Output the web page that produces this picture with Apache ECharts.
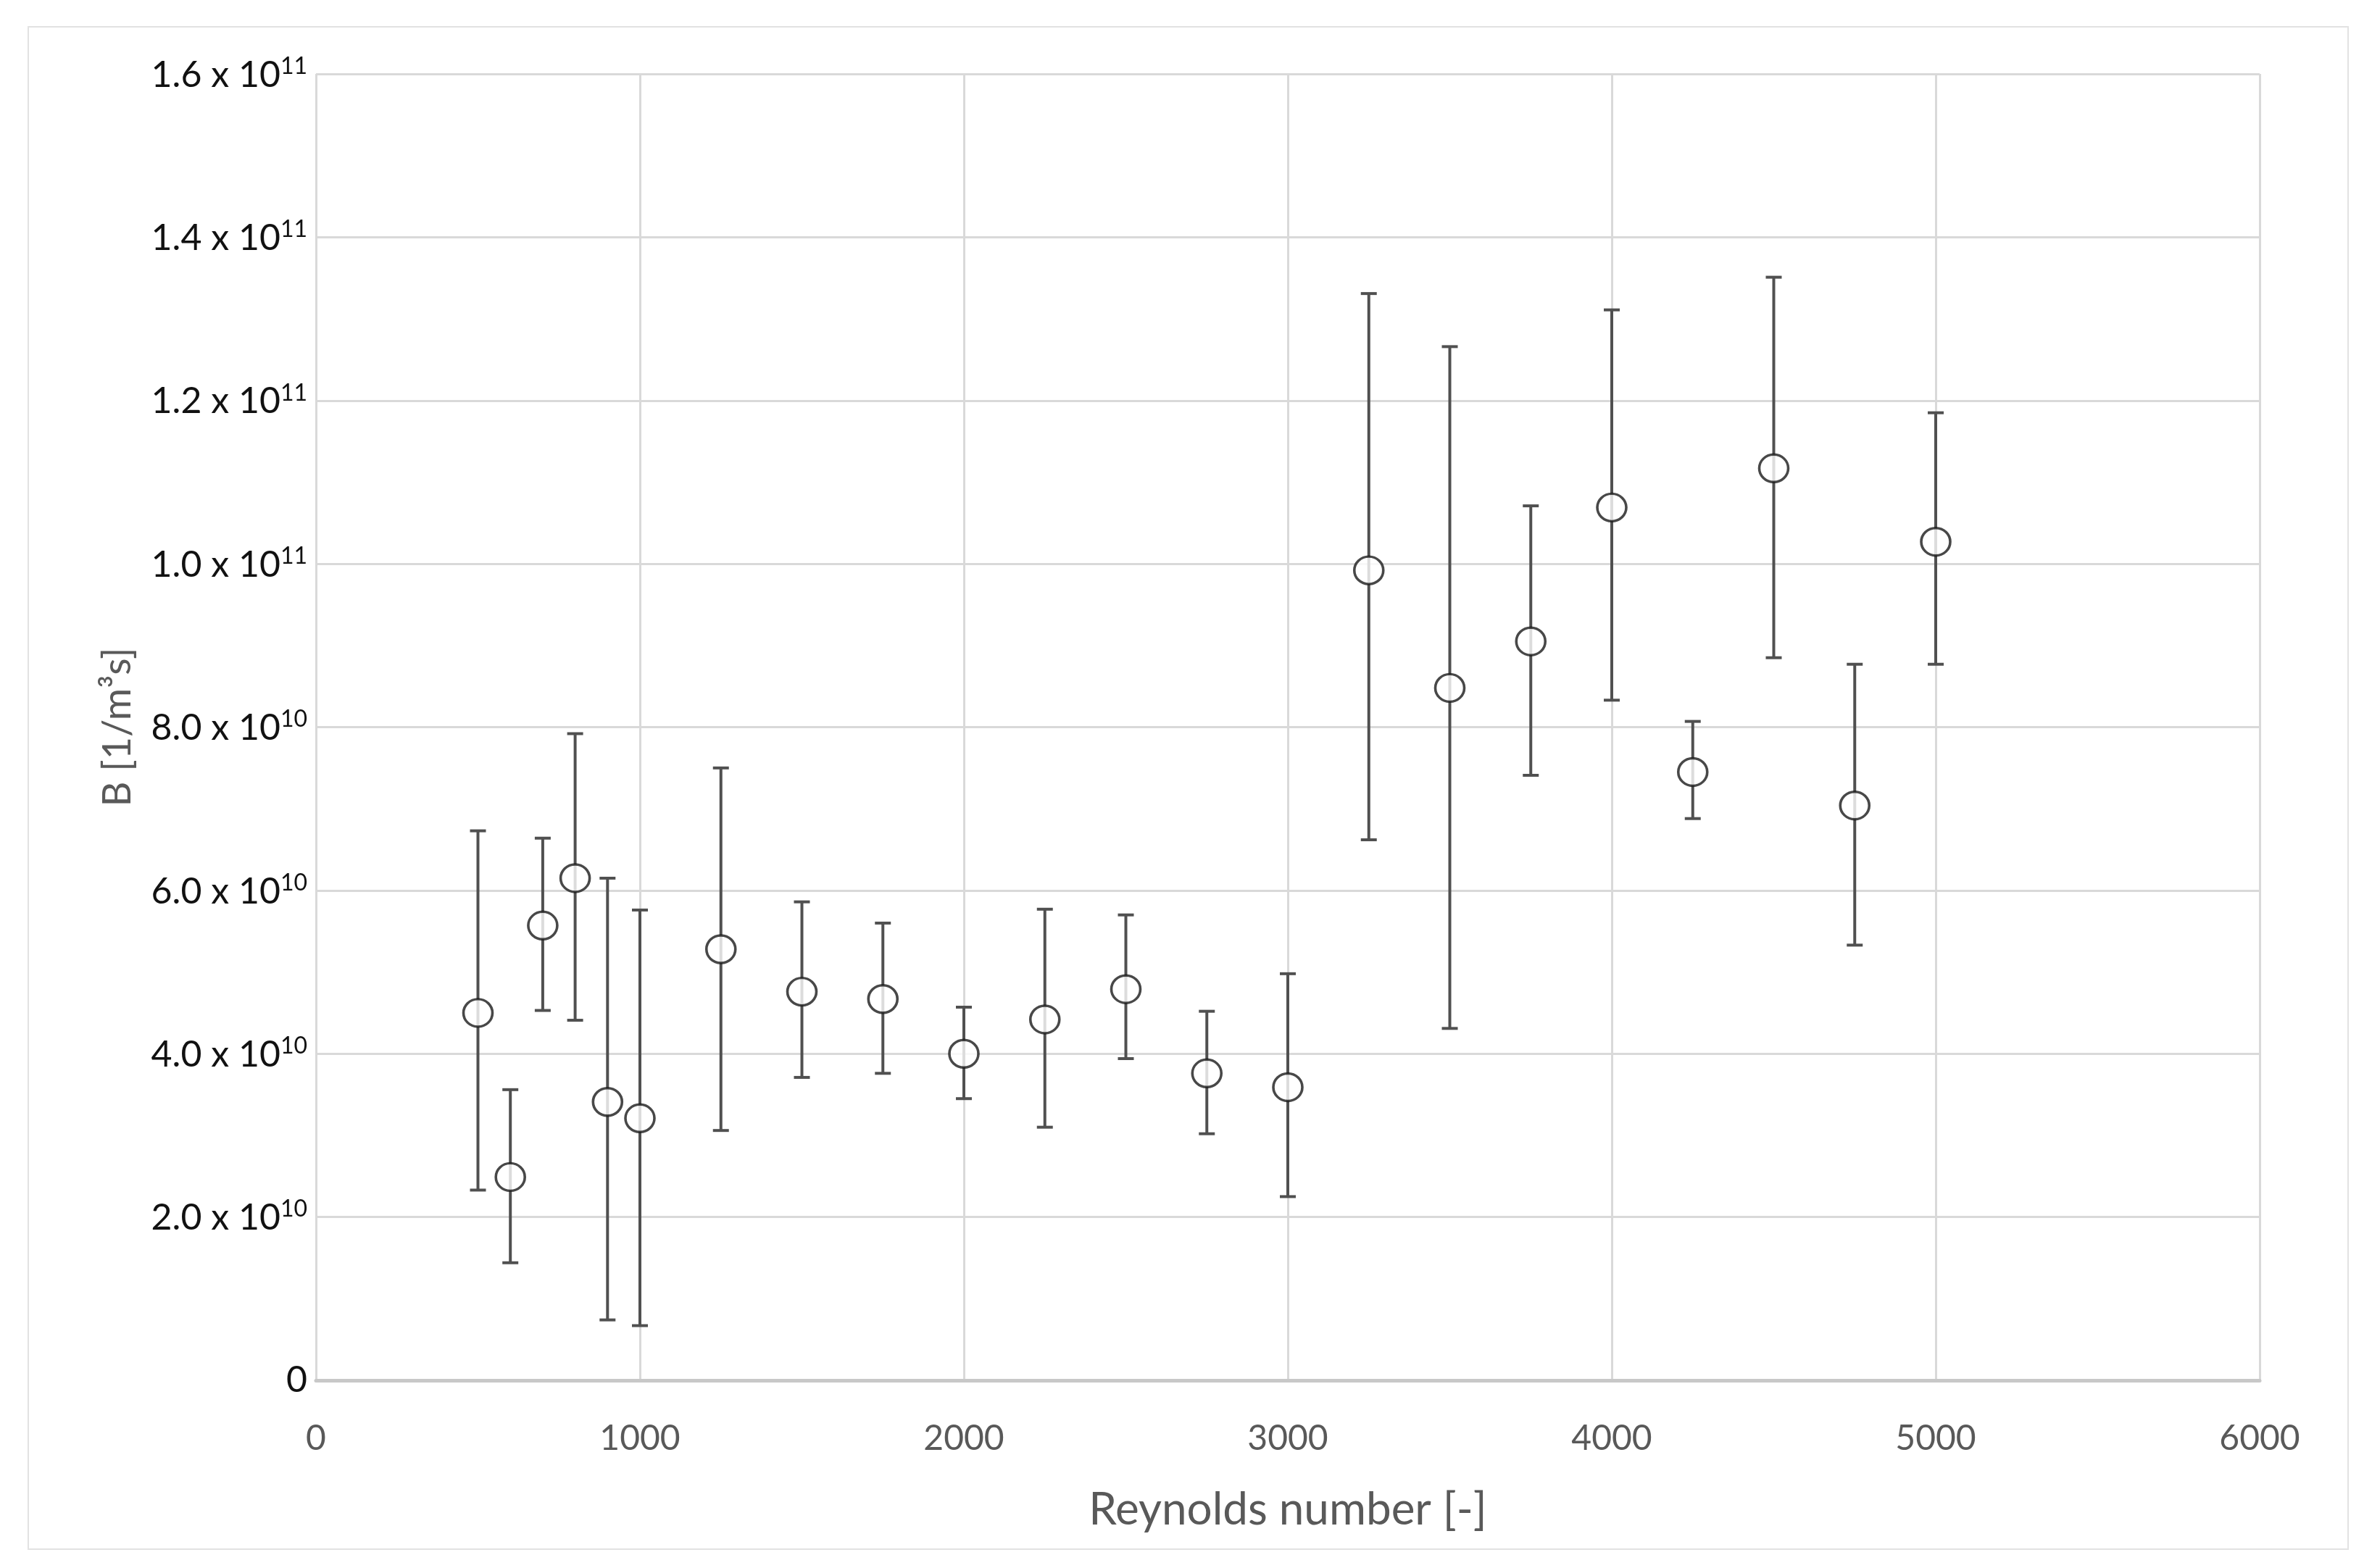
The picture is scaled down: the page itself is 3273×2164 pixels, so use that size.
<!DOCTYPE html>
<html>
<head>
<meta charset="utf-8">
<script src="https://cdn.jsdelivr.net/npm/echarts@6/dist/echarts.min.js"></script>
<style>
  html, body { margin: 0; padding: 0; background: #fff; }
  #chart { width: 3273px; height: 2164px; }
</style>
</head>
<body>
<div id="chart"></div>
<script>
// Reynolds number of each run
var reynolds = [500, 600, 700, 800, 900, 1000, 1250, 1500, 1750, 2000, 2250,
                2500, 2750, 3000, 3250, 3500, 3750, 4000, 4250, 4500, 4750, 5000];
// B mean value [1/m3s]
var bMean = [4.50e10, 2.49e10, 5.57e10, 6.15e10, 3.41e10, 3.21e10, 5.28e10, 4.76e10, 4.67e10, 4.00e10, 4.42e10,
             4.79e10, 3.76e10, 3.59e10, 9.92e10, 8.48e10, 9.05e10, 10.69e10, 7.45e10, 11.17e10, 7.04e10, 10.27e10];
// lower and upper ends of the error bars
var bLow = [2.33e10, 1.44e10, 4.53e10, 4.41e10, 0.74e10, 0.67e10, 3.06e10, 3.71e10, 3.76e10, 3.45e10, 3.10e10,
            3.94e10, 3.02e10, 2.25e10, 6.62e10, 4.31e10, 7.41e10, 8.33e10, 6.88e10, 8.85e10, 5.33e10, 8.77e10];
var bHigh = [6.73e10, 3.56e10, 6.64e10, 7.92e10, 6.15e10, 5.76e10, 7.50e10, 5.86e10, 5.60e10, 4.57e10, 5.77e10,
             5.70e10, 4.52e10, 4.98e10, 13.31e10, 12.66e10, 10.71e10, 13.11e10, 8.07e10, 13.51e10, 8.77e10, 11.85e10];

var points = reynolds.map(function (r, i) { return [r, bMean[i]]; });
var bars = reynolds.map(function (r, i) { return [r, bLow[i], bHigh[i]]; });

function sciLabel(v) {
  if (v === 0) return '{a|0}';
  var exp = Math.floor(Math.log10(v) + 1e-9);
  var mant = v / Math.pow(10, exp);
  return '{a|' + mant.toFixed(1) + ' x 10}{s|' + exp + '}';
}

var myChart = echarts.init(document.getElementById('chart'));
var option = {
  backgroundColor: '#fff',
  animation: false,
  grid: { left: 436, right: 155, top: 102, bottom: 259 },
  graphic: [{
    type: 'rect',
    shape: { x: 39, y: 37, width: 3201, height: 2101 },
    style: { fill: 'none', stroke: '#e2e2e2', lineWidth: 2 },
    silent: true
  }],
  xAxis: {
    type: 'value',
    min: 0, max: 6000, interval: 1000,
    name: 'Reynolds number [-]',
    nameLocation: 'middle',
    nameGap: 148,
    nameTextStyle: { fontFamily: 'Lato', fontSize: 62, color: '#595959' },
    axisLine: { show: true, lineStyle: { color: '#c8c8c8', width: 5 } },
    axisTick: { show: false },
    axisLabel: {
      fontFamily: 'Lato', fontSize: 48, color: '#595959', margin: 57,
      formatter: function (v) { return String(v); }
    },
    splitLine: { show: true, lineStyle: { color: '#d9d9d9', width: 3 } }
  },
  yAxis: {
    type: 'value',
    min: 0, max: 1.6e11, interval: 2e10,
    name: 'B [1/m³s]',
    nameLocation: 'middle',
    nameGap: 246,
    nameTextStyle: { fontFamily: 'Lato', fontSize: 54, color: '#595959' },
    axisLine: { show: false },
    axisTick: { show: false },
    axisLabel: {
      margin: 12,
      formatter: sciLabel,
      rich: {
        a: { fontFamily: 'Lato', fontSize: 50, color: '#111', verticalAlign: 'bottom' },
        s: { fontFamily: 'Lato', fontSize: 32, color: '#111', verticalAlign: 'bottom', padding: [0, 0, 21, 0] }
      }
    },
    splitLine: { show: true, lineStyle: { color: '#d9d9d9', width: 3 } }
  },
  series: [
    {
      name: 'error',
      type: 'custom',
      data: bars,
      encode: { x: 0, y: [1, 2] },
      z: 2,
      renderItem: function (params, api) {
        var lo = api.coord([api.value(0), api.value(1)]);
        var hi = api.coord([api.value(0), api.value(2)]);
        var w = 11;
        var st = { stroke: '#505050', lineWidth: 4 };
        return {
          type: 'group',
          children: [
            { type: 'line', shape: { x1: lo[0], y1: lo[1], x2: hi[0], y2: hi[1] }, style: st },
            { type: 'line', shape: { x1: hi[0] - w, y1: hi[1], x2: hi[0] + w, y2: hi[1] }, style: st },
            { type: 'line', shape: { x1: lo[0] - w, y1: lo[1], x2: lo[0] + w, y2: lo[1] }, style: st }
          ]
        };
      }
    },
    {
      name: 'B',
      type: 'scatter',
      data: points,
      z: 3,
      symbol: 'circle',
      symbolSize: [40, 38],
      itemStyle: { color: '#fff', borderColor: '#1a1a1a', borderWidth: 3.5 }
    }
  ]
};
myChart.setOption(option);
</script>
</body>
</html>
